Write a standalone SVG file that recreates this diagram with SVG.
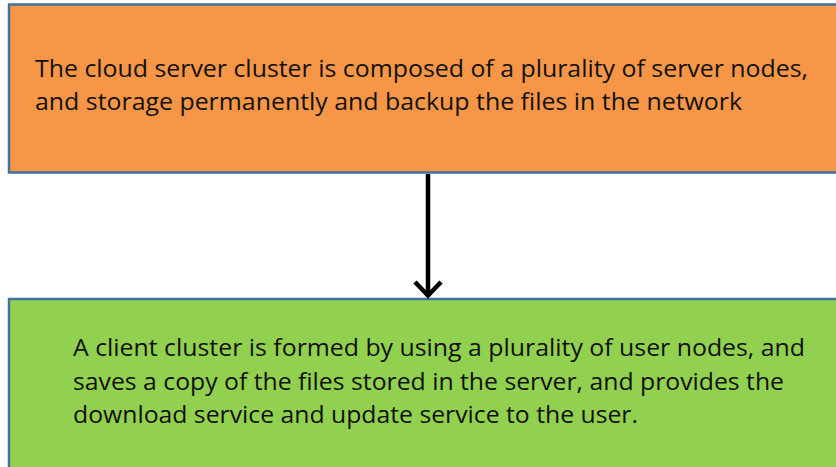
<svg xmlns="http://www.w3.org/2000/svg" width="836" height="467" viewBox="0 0 836 467">
<style>
.box{stroke:#41719C;stroke-width:2.5}
.txt{font-family:"Open Sans","Noto Sans","Liberation Sans",sans-serif;font-size:24px;fill:#111}
.conn{fill:none;stroke:#000;stroke-width:4.5}
</style>
<rect width="836" height="467" fill="#fff"/>
<g id="node-server">
<rect class="box" x="9" y="4.5" width="840" height="168" fill="#F79646"/>
<text class="txt" x="35" y="77" textLength="773" lengthAdjust="spacingAndGlyphs">The cloud server cluster is composed of a plurality of server nodes,</text>
<text class="txt" x="35" y="110" textLength="707" lengthAdjust="spacingAndGlyphs">and storage permanently and backup the files in the network</text>
</g>
<g id="node-client">
<rect class="box" x="9" y="299" width="840" height="180" fill="#92D050"/>
<text class="txt" x="73" y="356" textLength="732" lengthAdjust="spacingAndGlyphs">A client cluster is formed by using a plurality of user nodes, and</text>
<text class="txt" x="73" y="389.5" textLength="711" lengthAdjust="spacingAndGlyphs">saves a copy of the files stored in the server, and provides the</text>
<text class="txt" x="73" y="423" textLength="565" lengthAdjust="spacingAndGlyphs">download service and update service to the user.</text>
</g>
<g id="connectors">
<line class="conn" x1="428" y1="174" x2="428" y2="296"/>
<polyline class="conn" points="415,282 428,295.5 441,282"/>
</g>
</svg>
